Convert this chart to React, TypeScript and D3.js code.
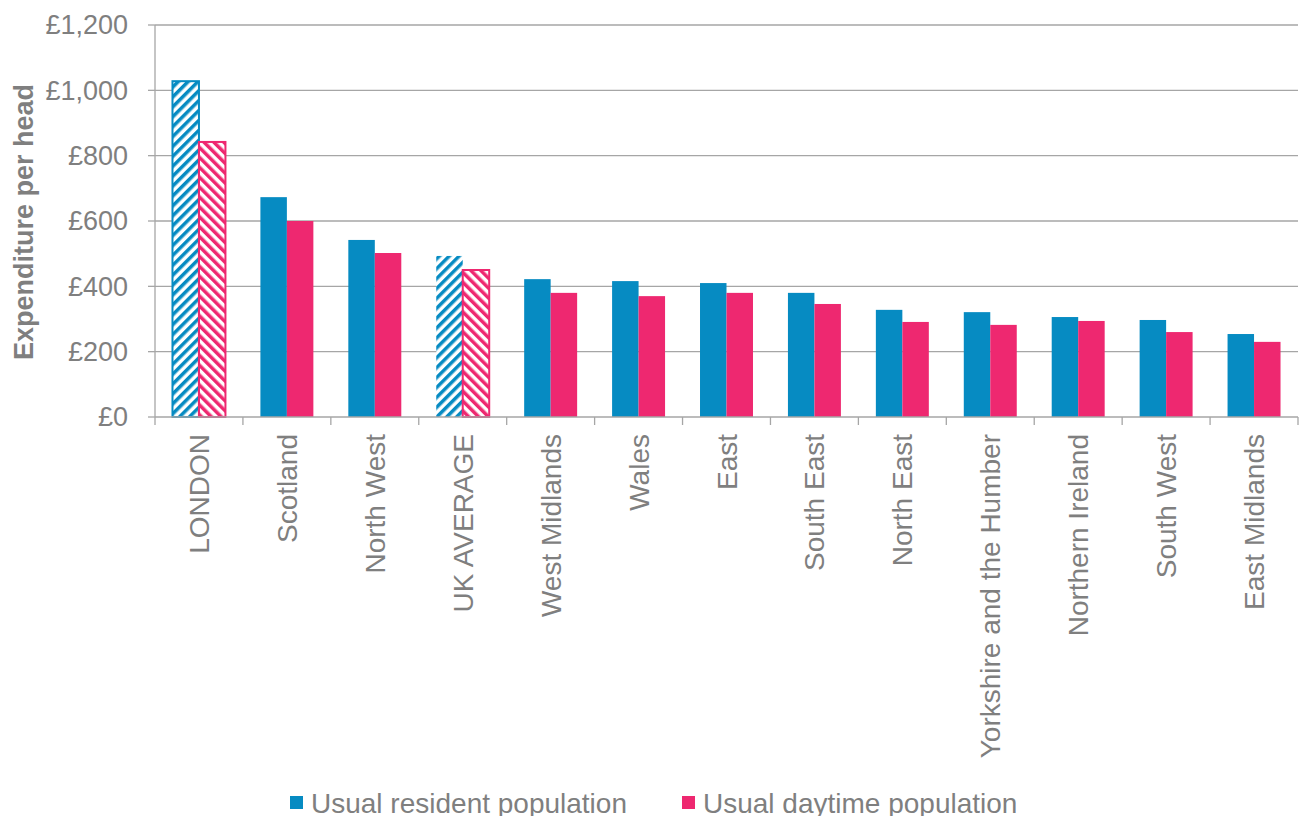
import React from "react";
import * as d3 from "d3";

const categories = ["LONDON", "Scotland", "North West", "UK AVERAGE", "West Midlands", "Wales", "East", "South East", "North East", "Yorkshire and the Humber", "Northern Ireland", "South West", "East Midlands"];
const residentValues = [1028, 673, 542, 493, 422, 416, 410, 380, 328, 321, 306, 297, 254];
const daytimeValues = [842, 600, 502, 450, 380, 370, 380, 346, 291, 282, 294, 260, 230];
const hatched = ["LONDON", "UK AVERAGE"];
const yTicks = [0, 200, 400, 600, 800, 1000, 1200];
const seriesNames = ["Usual resident population", "Usual daytime population"];

const BLUE = "#068BC2";
const PINK = "#EE2870";
const TEXT = "#7F7F7F";
const GRID = "#A6A6A6";

export default function App() {
  const W = 1302, H = 816;
  const left = 155, right = 1298, top = 25, bottom = 417;
  const x = d3.scaleBand<string>().domain(categories).range([left, right]).paddingInner(0).paddingOuter(0);
  const inner = d3.scaleBand<string>().domain(["r", "d"]).range([0, x.bandwidth()]).paddingInner(0).paddingOuter(0.66);
  const y = d3.scaleLinear().domain([0, 1200]).range([bottom, top]);
  const fmt = (v: number) => "£" + d3.format(",")(v);
  const font = "Liberation Sans, Arial, sans-serif";

  return (
    <svg width={W} height={H} style={{ position: "absolute", left: 0, top: 0 }} fontFamily={font}>
      <defs>
        <pattern id="hatchBlue" patternUnits="userSpaceOnUse" width="7" height="7" patternTransform="rotate(45)">
          <rect width="7" height="7" fill="#fff" />
          <rect width="3.5" height="7" fill={BLUE} />
        </pattern>
        <pattern id="hatchPink" patternUnits="userSpaceOnUse" width="7" height="7" patternTransform="rotate(-45)">
          <rect width="7" height="7" fill="#fff" />
          <rect width="3.5" height="7" fill={PINK} />
        </pattern>
      </defs>
      <rect width={W} height={H} fill="#fff" />
      {yTicks.map((t) => (
        <g key={t}>
          {t > 0 && <line x1={left} x2={right} y1={y(t)} y2={y(t)} stroke={GRID} strokeWidth={1.3} />}
          <line x1={left - 7} x2={left} y1={y(t)} y2={y(t)} stroke={GRID} strokeWidth={1.3} />
          <text x={128} y={y(t)} dy="0.35em" textAnchor="end" fontSize={27} fill={TEXT}>{fmt(t)}</text>
        </g>
      ))}
      <text transform={`translate(33,222) rotate(-90)`} textAnchor="middle" fontSize={27} fontWeight="bold" fill={TEXT}>Expenditure per head</text>
      {categories.map((c, i) => {
        const x0 = x(c)!;
        const isH = hatched.includes(c);
        const rv = residentValues[i], dv = daytimeValues[i];
        const bw = inner.bandwidth();
        return (
          <g key={c}>
            <rect x={x0 + inner("r")!} y={y(rv)} width={bw} height={bottom - y(rv)}
              fill={isH ? "url(#hatchBlue)" : BLUE} stroke={isH && c === "LONDON" ? BLUE : "none"} strokeWidth={2} />
            <rect x={x0 + inner("d")!} y={y(dv)} width={bw} height={bottom - y(dv)}
              fill={isH ? "url(#hatchPink)" : PINK} stroke={isH ? PINK : "none"} strokeWidth={2} />
            <text transform={`translate(${x0 + x.bandwidth() / 2 + 10},${bottom + 17}) rotate(-90)`} textAnchor="end" fontSize={28} fill={TEXT}>{c}</text>
          </g>
        );
      })}
      <line x1={left} x2={left} y1={top} y2={bottom} stroke={GRID} strokeWidth={1.3} />
      <line x1={left} x2={right} y1={bottom} y2={bottom} stroke={GRID} strokeWidth={1.3} />
      {categories.map((c) => (
        <line key={"t" + c} x1={x(c)!} x2={x(c)!} y1={bottom} y2={bottom + 8} stroke={GRID} strokeWidth={1.3} />
      ))}
      <line x1={right} x2={right} y1={bottom} y2={bottom + 8} stroke={GRID} strokeWidth={1.3} />
      <g>
        <rect x={290} y={796} width={13} height={13} fill={BLUE} />
        <text x={311} y={803} dy="0.35em" fontSize={28} fill={TEXT}>{seriesNames[0]}</text>
        <rect x={682} y={796} width={13} height={13} fill={PINK} />
        <text x={703} y={803} dy="0.35em" fontSize={28} fill={TEXT}>{seriesNames[1]}</text>
      </g>
    </svg>
  );
}
